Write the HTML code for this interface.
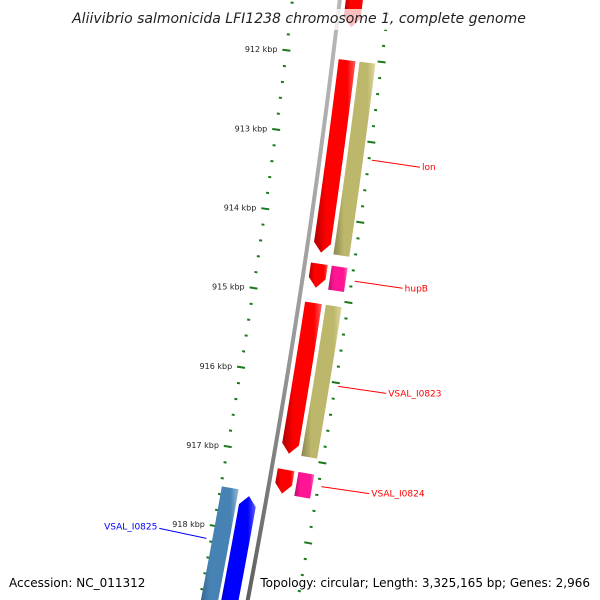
<!DOCTYPE html>
<html><head><meta charset="utf-8"><style>
html,body{margin:0;padding:0;background:#fff;overflow:hidden;width:600px;height:600px}
svg{display:block;overflow:hidden}
text{font-family:"DejaVu Sans","Liberation Sans",sans-serif}
</style></head><body>
<svg id="map" width="600" height="600" viewBox="0 0 600 600" xmlns="http://www.w3.org/2000/svg">
<defs>
<clipPath id="frame"><rect x="0" y="0" width="600" height="600"/></clipPath>
<linearGradient id="gRed" x1="0" x2="1" y1="0" y2="0"><stop offset="0" stop-color="#b00000"/><stop offset="0.3" stop-color="#ff0000"/><stop offset="0.8" stop-color="#ff0000"/><stop offset="1" stop-color="#ff6060"/></linearGradient>
<linearGradient id="gKhaki" x1="0" x2="1" y1="0" y2="0"><stop offset="0" stop-color="#8a8650"/><stop offset="0.25" stop-color="#bdb76b"/><stop offset="0.8" stop-color="#bdb76b"/><stop offset="1" stop-color="#ddd9a0"/></linearGradient>
<linearGradient id="gPink" x1="0" x2="1" y1="0" y2="0"><stop offset="0" stop-color="#b0106a"/><stop offset="0.3" stop-color="#ff1493"/><stop offset="0.8" stop-color="#ff1493"/><stop offset="1" stop-color="#ff70b8"/></linearGradient>
<linearGradient id="gBlue" x1="0" x2="1" y1="0" y2="0"><stop offset="0" stop-color="#0000a0"/><stop offset="0.3" stop-color="#0000ff"/><stop offset="0.8" stop-color="#0000ff"/><stop offset="1" stop-color="#6060ff"/></linearGradient>
<linearGradient id="gSteel" x1="0" x2="1" y1="0" y2="0"><stop offset="0" stop-color="#2c5a80"/><stop offset="0.3" stop-color="#4682b4"/><stop offset="0.8" stop-color="#4682b4"/><stop offset="1" stop-color="#90b8d8"/></linearGradient>
<linearGradient id="gGray" x1="0" x2="1" y1="0" y2="0"><stop offset="0" stop-color="#555"/><stop offset="0.5" stop-color="#999"/><stop offset="1" stop-color="#bbb"/></linearGradient>
</defs>
<g clip-path="url(#frame)">
<g id="ticks"></g>
<g id="backbone-g"></g>
<g id="features"></g>
<g id="labels"></g>
</g>
<rect x="70" y="9" width="460" height="21" fill="#fff" opacity="0.75"/>
<text x="299" y="23" text-anchor="middle" font-size="14" font-style="italic" fill="#222">Aliivibrio salmonicida LFI1238 chromosome 1, complete genome</text>
<text x="9" y="587" font-size="12" fill="#000">Accession: NC_011312</text>
<text x="590" y="587" font-size="12" text-anchor="end" fill="#000">Topology: circular; Length: 3,325,165 bp; Genes: 2,966</text>
</svg>
<script>
const tickLabels = [912, 913, 914, 915, 916, 917, 918];
const featNames = ["top-gene","lon","lon-cds","hupB","hupB-rna","VSAL_I0823","VSAL_I0823-cds","VSAL_I0824","VSAL_I0824-rna","VSAL_I0825-cds","VSAL_I0825"];
const featStart = [910.9, 912.03, 912.03, 914.58, 914.58, 915.07, 915.07, 917.16, 917.16, 917.50, 917.56];
const featEnd   = [911.62, 914.44, 914.44, 914.88, 914.88, 916.96, 916.96, 917.46, 917.46, 919.2, 919.2];
const featStrand = [1,1,1,1,1,1,1,1,1,-1,-1];
const featArrow = [1,1,0,1,0,1,0,1,0,0,1];
const labelText = ["lon","hupB","VSAL_I0823","VSAL_I0824","VSAL_I0825"];
const labelPos = [913.22, 914.73, 916.04, 917.29, 918.17];
const labelStrand = [1,1,1,1,-1];

const NS='http://www.w3.org/2000/svg';
function Y(k){return 56+(k-912)*79.7;}
function X(k){const d=k-915;return 300-12.17*d-0.389*d*d;}
function P(k,o){
  const dx=-12.17-0.778*(k-915), dy=79.7, L=Math.hypot(dx,dy);
  const nx=dy/L, ny=-dx/L;
  return [X(k)+nx*o, Y(k)+ny*o];
}
function mk(tag,attrs,parent){const e=document.createElementNS(NS,tag);for(const a in attrs)e.setAttribute(a,attrs[a]);parent.appendChild(e);return e;}

const bb=document.getElementById('backbone-g');
let pts=[];
for(let k=910.9;k<=919.3;k+=0.1){pts.push(P(k,-2));}
for(let k=919.3;k>=910.9;k-=0.1){pts.push(P(k,2));}
const bline=mk('polygon',{points:pts.map(p=>p.join(',')).join(' '),fill:'url(#gGray)'},bb);



const tg=document.getElementById('ticks');
for(let i=0;i<=45;i++){
  const k=911.0+i*0.2;
  const major=Math.abs(k-Math.round(k))<1e-6;
  [-47,49].forEach(side=>{
    const len=major?8:3;
    const a=P(k,side-len/2), b=P(k,side+len/2);
    const t=mk('line',{x1:a[0],y1:a[1],x2:b[0],y2:b[1],stroke:'#1a7a1a','stroke-width':2},tg);
    
    
  });
}
tickLabels.forEach(k=>{
  const a=P(k,-56);
  const t=mk('text',{x:a[0],y:a[1]+3,'font-size':8,'text-anchor':'end',fill:'#222'},tg);
  t.textContent=k+' kbp';
  
  
});

const fg=document.getElementById('features');
const fills={0:'url(#gRed)',1:'url(#gRed)',2:'url(#gKhaki)',3:'url(#gRed)',4:'url(#gPink)',5:'url(#gRed)',6:'url(#gKhaki)',7:'url(#gRed)',8:'url(#gPink)',9:'url(#gSteel)',10:'url(#gBlue)'};
function offsets(i){
  if(featStrand[i]>0) return (i===0||[1,3,5,7].includes(i))?[6,23]:[27,43];
  return i===10?[-26,-9]:[-46,-29];
}
function draw(poly,i,n){
  const el=mk('polygon',{points:poly.map(p=>p.join(',')).join(' '),fill:fills[i]},fg);
  
  
}
featNames.forEach((n,i)=>{
  const [o1,o2]=offsets(i);
  const s=featStart[i], e=featEnd[i], ah=0.12;
  let left=[],right=[];
  if(featArrow[i] && featStrand[i]>0){
    for(let k=s;k<e-ah;k+=0.1){left.push(P(k,o1));right.push(P(k,o2));}
    left.push(P(e-ah,o1));right.push(P(e-ah,o2));
    draw(left.concat([P(e,(o1+o2)/2)]).concat(right.reverse()),i,n);
  } else if(featArrow[i] && featStrand[i]<0){
    for(let k=s+ah;k<e;k+=0.1){left.push(P(k,o1));right.push(P(k,o2));}
    left.push(P(e,o1));right.push(P(e,o2));
    draw([P(s,(o1+o2)/2)].concat(left).concat(right.reverse()),i,n);
  } else {
    for(let k=s;k<e;k+=0.1){left.push(P(k,o1));right.push(P(k,o2));}
    left.push(P(e,o1));right.push(P(e,o2));
    draw(left.concat(right.reverse()),i,n);
  }
});

const lg=document.getElementById('labels');
labelText.forEach((t,i)=>{
  const k=labelPos[i], st=labelStrand[i];
  const col=st>0?'#ff0000':'#0000ff';
  const a=P(k,st>0?52:-52);
  const bx=st>0?a[0]+48:a[0]-47, by=st>0?a[1]+7:a[1]-10;
  const l=mk('line',{x1:a[0],y1:a[1],x2:bx,y2:by,stroke:col,'stroke-width':1},lg);
  
  
  const tx=mk('text',{x:st>0?bx+2:bx-2,y:st>0?by+3:by+1,'font-size':9,fill:col,'text-anchor':st>0?'start':'end'},lg);
  tx.textContent=t;
  
  
});
</script>
</body></html>
